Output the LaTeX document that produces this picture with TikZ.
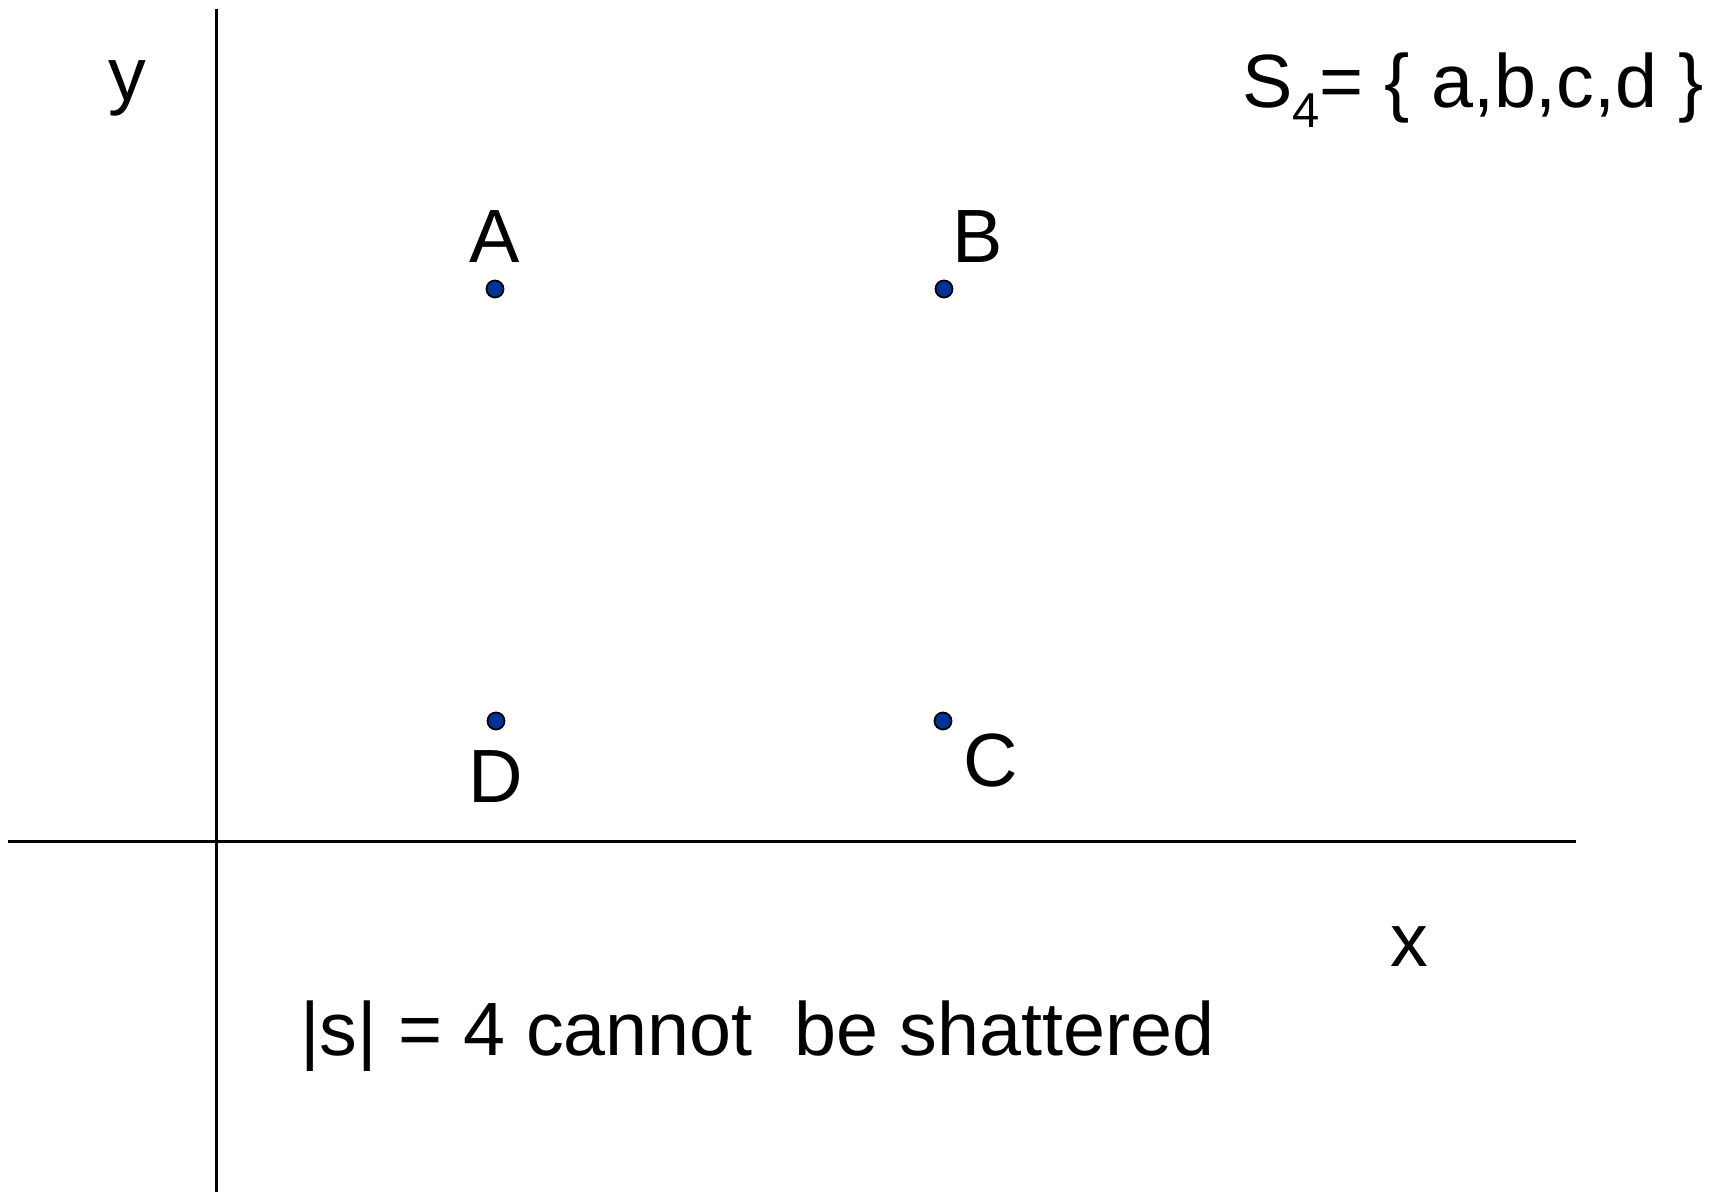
\documentclass[tikz,border=0pt]{standalone}
\usepackage{fontspec}
\setmainfont{Liberation Sans}
\definecolor{dotblue}{HTML}{003399}
\tikzset{
  axis/.style={line width=3.2pt, black},
  pt/.style={circle, draw=black, line width=1.8pt, fill=dotblue, minimum size=17pt, inner sep=0pt},
  lbl/.style={inner sep=0pt, anchor=base, font=\fontsize{75.5}{90}\selectfont},
}
\begin{document}
\begin{tikzpicture}[x=1pt,y=-1pt]
\useasboundingbox (0,0) rectangle (1711,1192);
% axes
\coordinate (ytop) at (216.5,9);
\coordinate (ybot) at (216.5,1192);
\coordinate (xl) at (8,841.5);
\coordinate (xr) at (1576,841.5);
\draw[axis] (ytop) -- (ybot);
\draw[axis] (xl) -- (xr);
% points
\node[pt] (pA) at (495,289) {};
\node[pt] (pB) at (944,289) {};
\node[pt] (pC) at (943,721) {};
\node[pt] (pD) at (496,721) {};
% labels
\node[lbl] (lA) at (495,262) {A};
\node[lbl] (lB) at (978,262) {B};
\node[lbl] (lC) at (991,786) {C};
\node[lbl] (lD) at (496,802) {D};
\node[lbl] (ly) at (127,100) {y};
\node[lbl] (lx) at (1409,966) {x};
\node[lbl, anchor=base west] (set) at (1242,107) {S\raisebox{-0.27em}{\fontsize{49}{51}\selectfont 4}= \{ a,b,c,d \}};
\node[lbl, anchor=base west] (note) at (300,1055) {|s| = 4 cannot\ \ be shattered};
\end{tikzpicture}
\end{document}
